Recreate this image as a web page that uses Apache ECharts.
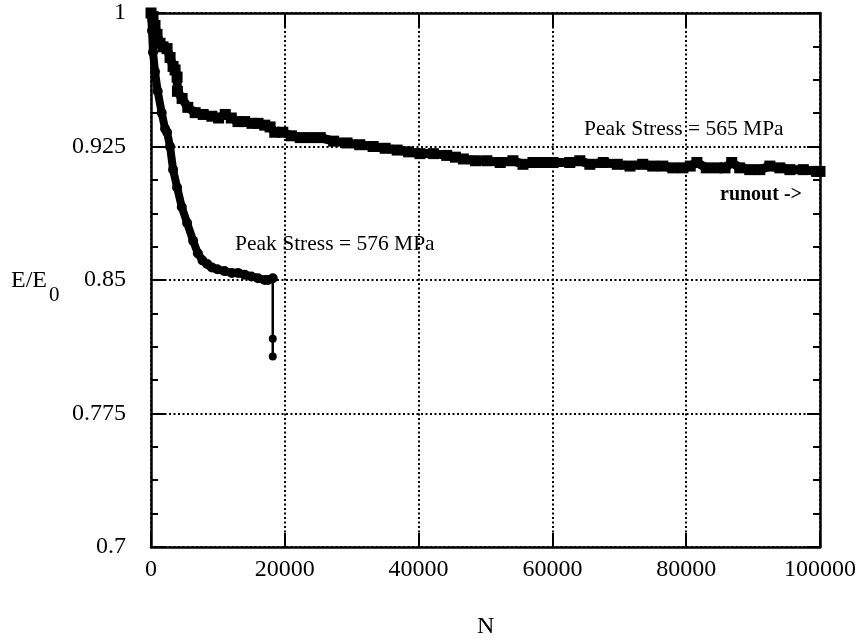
<!DOCTYPE html>
<html><head><meta charset="utf-8">
<script src="https://cdn.jsdelivr.net/npm/echarts@6/dist/echarts.min.js"></script>
<style>html,body{margin:0;padding:0;background:#fff}#c{width:865px;height:642px}</style>
</head><body><div id="c"></div>
<script>
const xTicks = [0, 20000, 40000, 60000, 80000, 100000];
const yMajorTicks = [0.7, 0.775, 0.85, 0.925, 1];
const yMinorTicks = [0.71875, 0.7375, 0.75625, 0.79375, 0.8125, 0.83125, 0.86875, 0.8875, 0.90625, 0.94375, 0.9625, 0.98125];

// Peak Stress = 565 MPa (runout)
const n565 = [0, 300, 600, 900, 1350, 1800, 2400, 2850, 3300, 3600, 3900, 3950, 4650, 5500, 6600, 7800, 9100, 10100, 11100, 12000, 13000, 14000, 15100, 16000, 17000, 17800, 18500, 19700, 21000, 22300, 23800, 25300, 27300, 29300, 31200, 33200, 35000, 36800, 38500, 40200, 42200, 44200, 45500, 46700, 48500, 50200, 52200, 54100, 55600, 57100, 58600, 60100, 62600, 64100, 65600, 67600, 69700, 71600, 73500, 75000, 76500, 78000, 79500, 80600, 81600, 83000, 84600, 85800, 86800, 88000, 89500, 91000, 92500, 94000, 95500, 97500, 99500, 100000];
const e565 = [1.000, 0.998, 0.993, 0.988, 0.983, 0.981, 0.980, 0.975, 0.970, 0.968, 0.964, 0.956, 0.952, 0.947, 0.944, 0.943, 0.942, 0.941, 0.943, 0.941, 0.939, 0.939, 0.938, 0.938, 0.937, 0.936, 0.933, 0.933, 0.931, 0.930, 0.930, 0.930, 0.928, 0.927, 0.926, 0.925, 0.924, 0.923, 0.922, 0.921, 0.921, 0.920, 0.919, 0.918, 0.917, 0.917, 0.916, 0.917, 0.915, 0.916, 0.916, 0.916, 0.916, 0.917, 0.915, 0.916, 0.915, 0.914, 0.915, 0.914, 0.914, 0.913, 0.913, 0.914, 0.916, 0.913, 0.913, 0.913, 0.916, 0.913, 0.912, 0.912, 0.914, 0.913, 0.912, 0.912, 0.911, 0.911];

// Peak Stress = 576 MPa
const n576 = [0, 150, 300, 600, 1000, 1600, 2100, 2400, 2850, 3300, 3900, 4600, 5400, 6300, 7000, 7700, 8400, 9100, 9900, 11000, 12100, 13000, 14000, 15000, 16000, 17000, 17500, 18200];
const e576 = [1.000, 0.990, 0.978, 0.967, 0.956, 0.944, 0.935, 0.933, 0.925, 0.912, 0.902, 0.891, 0.882, 0.872, 0.865, 0.861, 0.859, 0.857, 0.856, 0.855, 0.854, 0.854, 0.853, 0.852, 0.851, 0.850, 0.850, 0.851];
// final drop at failure
const n576Fail = [18200, 18200, 18200];
const e576Fail = [0.851, 0.817, 0.807];

const FONT = 'Liberation Serif';
const zip = (a, b) => a.map((v, i) => [v, b[i]]);

const chart = echarts.init(document.getElementById('c'), null, {renderer: 'canvas'});
const axisLine = {show: true, lineStyle: {color: '#000', width: 2.5}};
const dotted = {show: true, lineStyle: {color: '#000', width: 2, type: [2, 2.5]}};
const yBase = {type: 'value', min: 0.7, max: 1, scale: true};

chart.setOption({
  backgroundColor: '#fff',
  animation: false,
  grid: {left: 151, right: 45, top: 13, bottom: 95, containLabel: false},
  xAxis: [
    {type: 'value', position: 'bottom', min: 0, max: 100000, interval: 20000,
     axisLine: axisLine,
     axisTick: {show: true, inside: true, length: 14, lineStyle: {color: '#000', width: 2}},
     axisLabel: {show: true, color: '#000', fontFamily: FONT, fontSize: 24, margin: 11,
       customValues: xTicks, formatter: v => String(v)},
     splitLine: dotted},
    {type: 'value', position: 'top', min: 0, max: 100000, interval: 20000,
     axisLine: axisLine,
     axisTick: {show: true, inside: true, length: 14, lineStyle: {color: '#000', width: 2}},
     axisLabel: {show: false}, splitLine: {show: false}}
  ],
  yAxis: [
    Object.assign({}, yBase, {position: 'left',
      axisLine: axisLine,
      axisTick: {show: true, inside: true, length: 14, customValues: yMajorTicks, lineStyle: {color: '#000', width: 2}},
      axisLabel: {show: true, color: '#000', fontFamily: FONT, fontSize: 24, margin: 25, customValues: yMajorTicks,
        formatter: v => String(+v.toFixed(3))},
      splitLine: dotted}),
    Object.assign({}, yBase, {position: 'left',
      axisLine: {show: false},
      axisTick: {show: true, inside: true, length: 7, customValues: yMinorTicks, lineStyle: {color: '#000', width: 2}},
      axisLabel: {show: false}, splitLine: {show: false}}),
    Object.assign({}, yBase, {position: 'right',
      axisLine: axisLine,
      axisTick: {show: true, inside: true, length: 13, customValues: yMajorTicks, lineStyle: {color: '#000', width: 2}},
      axisLabel: {show: false}, splitLine: {show: false}}),
    Object.assign({}, yBase, {position: 'right',
      axisLine: {show: false},
      axisTick: {show: true, inside: true, length: 7, customValues: yMinorTicks, lineStyle: {color: '#000', width: 2}},
      axisLabel: {show: false}, splitLine: {show: false}})
  ],
  series: [
    {name: 'Peak Stress = 565 MPa', type: 'line', xAxisIndex: 0, yAxisIndex: 0,
     data: zip(n565, e565), symbol: 'rect', symbolSize: 11, showSymbol: true,
     itemStyle: {color: '#000'}, lineStyle: {color: '#000', width: 9, join: 'round', cap: 'round'}, z: 5},
    {name: 'Peak Stress = 576 MPa', type: 'line', xAxisIndex: 0, yAxisIndex: 0,
     data: zip(n576, e576), symbol: 'circle', symbolSize: 10, showSymbol: true,
     itemStyle: {color: '#000'}, lineStyle: {color: '#000', width: 8, join: 'round', cap: 'round'}, z: 5},
    {name: 'Peak Stress = 576 MPa (failure)', type: 'line', xAxisIndex: 0, yAxisIndex: 0,
     data: zip(n576Fail, e576Fail), symbol: 'circle', symbolSize: 8, showSymbol: true,
     itemStyle: {color: '#000'}, lineStyle: {color: '#000', width: 2.5}, z: 5}
  ],
  graphic: [
    {type: 'text', left: 11, top: 269, style: {text: 'E/E', font: '24px "Liberation Serif"', fill: '#000'}},
    {type: 'text', left: 49, top: 285, style: {text: '0', font: '21px "Liberation Serif"', fill: '#000'}},
    {type: 'text', left: 477, top: 615, style: {text: 'N', font: '24px "Liberation Serif"', fill: '#000'}},
    {type: 'text', left: 584, top: 118, style: {text: 'Peak Stress = 565 MPa', font: '21.5px "Liberation Serif"', fill: '#000'}},
    {type: 'text', left: 235, top: 233, style: {text: 'Peak Stress = 576 MPa', font: '21.5px "Liberation Serif"', fill: '#000'}},
    {type: 'text', left: 720, top: 185, style: {text: 'runout ->', font: 'bold 20px "Liberation Serif"', fill: '#000'}}
  ]
});
</script>
</body></html>
